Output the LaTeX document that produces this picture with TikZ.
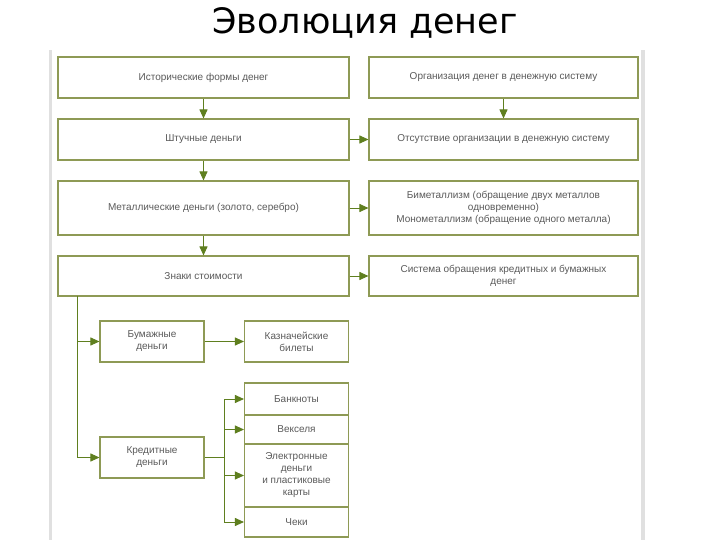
\documentclass[tikz,border=0pt]{standalone}
\usepackage{fontspec}
\setmainfont{Liberation Sans}
\newfontfamily\titlefont{DejaVu Sans}
\usetikzlibrary{positioning,arrows.meta,calc}
\definecolor{boxline}{HTML}{8E9A55}
\definecolor{arrgreen}{HTML}{5F7F1F}
\definecolor{txtgray}{HTML}{5A5A5A}
\begin{document}
\begin{tikzpicture}[
  x=1pt, y=-1pt,
  font=\fontsize{10}{12}\selectfont,
  >={Triangle[length=9pt,width=8pt]},
  box/.style={draw=boxline, line width=1.1pt, fill=white, text=txtgray, align=center, inner sep=2pt, minimum height=41pt},
  wide/.style={box, minimum width=291pt},
  rwide/.style={box, minimum width=269pt},
  small/.style={box, minimum width=104pt},
  link/.style={draw=arrgreen, line width=0.9pt, ->, arrgreen}
]
\useasboundingbox (0,0) rectangle (720,540);
% title and panel
\node[anchor=base] (title) at (365,34) {\titlefont\fontsize{35}{38}\selectfont Эволюция денег};
\fill[black!12] (49,50) rectangle (645,545);
\fill[white] (52,47) rectangle (641,545);
% left column
\node[wide]  (hist) at (203.5,77.5) {Исторические формы денег};
\node[wide]  (sht)  at (203.5,139.5) {Штучные деньги};
\node[wide, minimum height=54pt] (met) at (203.5,208) {Металлические деньги (золото, серебро)};
\node[wide, minimum height=40pt] (zn)  at (203.5,276) {Знаки стоимости};
% right column
\node[rwide] (org)  at (503.5,77.5) {Организация денег в денежную систему};
\node[rwide] (ots)  at (503.5,139.5) {Отсутствие организации в денежную систему};
\node[rwide, minimum height=54pt] (bim) at (503.5,208) {Биметаллизм (обращение двух металлов\\одновременно)\\Монометаллизм (обращение одного металла)};
\node[rwide, minimum height=40pt] (sys) at (503.5,276) {Система обращения кредитных и бумажных\\денег};
% lower part
\node[small] (bum)  at (152,341.5) {Бумажные\\деньги};
\node[small] (kaz)  at (296.5,341.5) {Казначейские\\билеты};
\node[small] (kred) at (152,457.5) {Кредитные\\деньги};
\node[small, minimum height=32pt] (bank) at (296.5,399) {Банкноты};
\node[small, minimum height=29pt] (veks) at (296.5,429.5) {Векселя};
\node[small, minimum height=63pt] (elec) at (296.5,475.5) {Электронные\\деньги\\и пластиковые\\карты};
\node[small, minimum height=30pt] (chek) at (296.5,522) {Чеки};
\coordinate (trunk) at (77,296);
\coordinate (fork)  at (224,457.5);
% arrows
\draw[link] (hist) -- (sht);
\draw[link] (sht)  -- (met);
\draw[link] (met)  -- (zn);
\draw[link] (org)  -- (ots);
\draw[link] (sht)  -- (ots);
\draw[link] (met)  -- (bim);
\draw[link] (zn)   -- (sys);
\draw[link] (trunk) |- (bum);
\draw[link] (trunk) |- (kred);
\draw[link] (bum)  -- (kaz);
\draw[draw=arrgreen, line width=0.9pt] (kred) -- (fork);
\draw[link] (fork) |- (bank);
\draw[link] (fork) |- (veks);
\draw[link] (fork) |- (elec);
\draw[link] (fork) |- (chek);
\end{tikzpicture}
\end{document}
